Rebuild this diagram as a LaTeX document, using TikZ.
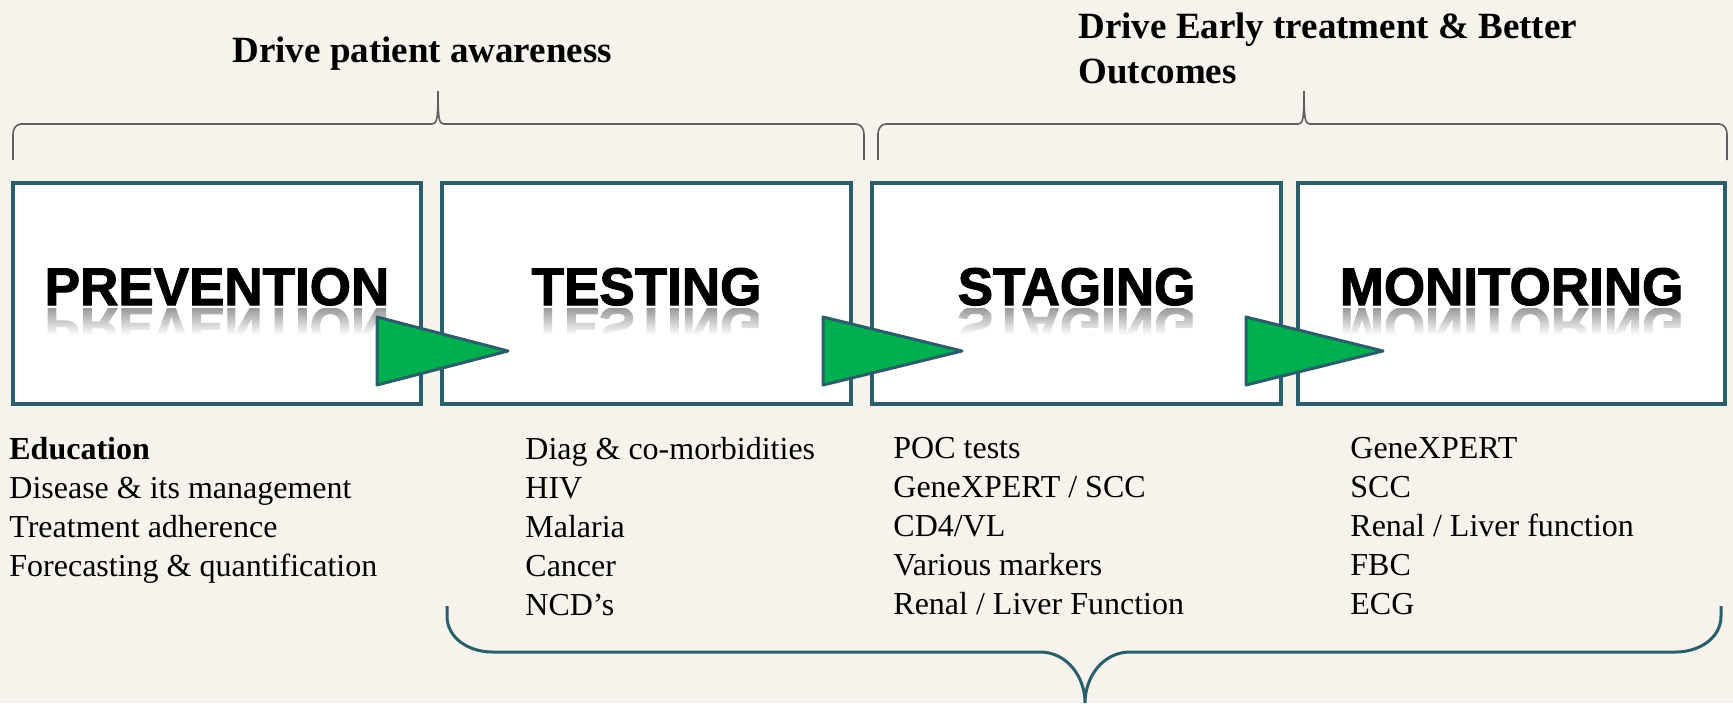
\documentclass[tikz,border=0pt]{standalone}
\usepackage{graphicx}
\usepackage{fontspec}
\setmainfont{Liberation Serif}
\newfontfamily\stagefont{Liberation Sans}[BoldFeatures={FakeBold=2}]
\usetikzlibrary{fadings}
\definecolor{boxline}{RGB}{42,94,107}
\definecolor{arrowgreen}{RGB}{0,176,80}
\definecolor{bracegray}{RGB}{95,95,95}
\definecolor{backdrop}{RGB}{246,243,237}
\tikzfading[name=fadereflect, top color=transparent!100, bottom color=transparent!0]

\begin{document}
\begin{tikzpicture}[x=0.5pt,y=-0.5pt,
  stagebox/.style={draw=boxline,line width=1.6pt,fill=white,minimum height=110.5pt,inner sep=0},
  stagetitle/.style={font=\stagefont\bfseries\fontsize{26.5}{30}\selectfont,anchor=base,inner sep=0},
  reflect/.style={stagetitle,text=black!40},
  arrowtri/.style={draw=boxline,line width=1.5pt,fill=arrowgreen,line join=round},
  topbrace/.style={draw=bracegray,line width=0.8pt},
  bottombrace/.style={draw=boxline,line width=1.5pt},
  headline/.style={font=\bfseries\fontsize{18.5}{22.5}\selectfont,inner sep=0},
  listtext/.style={font=\fontsize{16}{19.5}\selectfont,align=left,anchor=north west,inner sep=0}]
\useasboundingbox (0,0) rectangle (1733,703);
\fill[backdrop] (0,0) rectangle (1733,703);

% headings over the braces
\node[headline,anchor=base west] (aware) at (232,62) {Drive patient awareness};
\node[headline,anchor=north west,align=left] (early) at (1078,12) {Drive Early treatment \& Better\\Outcomes};

% top braces
\foreach \l/\m/\r in {13/438/864,878/1304/1727}
  \draw[topbrace] (\l,160) -- (\l,134) to[out=90,in=180] (\l+8,124) -- (\m-6,124)
    .. controls (\m-1,124) and (\m,119) .. (\m,91)
    .. controls (\m,119) and (\m+1,124) .. (\m+6,124) -- (\r-8,124)
    to[out=0,in=90] (\r,134) -- (\r,160);

% the four stages
\node[stagebox,minimum width=204pt] (prev) at (217,293.5) {};
\node[stagebox,minimum width=204.5pt] (test) at (646.5,293.5) {};
\node[stagebox,minimum width=204.5pt] (stag) at (1076.5,293.5) {};
\node[stagebox,minimum width=213.5pt] (moni) at (1511.5,293.5) {};

\foreach \n/\x/\t in {prev/217/PREVENTION,test/646.5/TESTING,stag/1076.5/STAGING,moni/1511.5/MONITORING}{
  \node[stagetitle] (\n title) at (\x,305) {\t};
  \begin{scope}
    \clip (\x-195,308) rectangle (\x+195,334);
    \node[reflect] (\n mirror) at (\x,308) {\scalebox{1}[-1]{\t}};
  \end{scope}
  \fill[white,path fading=fadereflect] (\x-195,308) rectangle (\x+195,335);
}

% green arrows
\foreach \a/\b in {377/508,823/962,1246/1383}
  \draw[arrowtri] (\a,317) -- (\b,351) -- (\a,385) -- cycle;

% lists
\node[listtext] (educ) at (9,437) {\textbf{Education}\\Disease \& its management\\Treatment adherence\\Forecasting \& quantification};
\node[listtext] (diag) at (525,437) {Diag \& co-morbidities\\HIV\\Malaria\\Cancer\\NCD’s};
\node[listtext] (poc) at (893,437) {POC tests\\GeneXPERT / SCC\\CD4/VL\\Various markers\\Renal / Liver Function};
\node[listtext] (gene) at (1350,437) {GeneXPERT\\SCC\\Renal / Liver function\\FBC\\ECG};

% bottom brace
\draw[bottombrace] (447,606) -- (447,616) to[out=-90,in=180] (492,652) -- (1040,652)
  to[out=0,in=90] (1085,703) to[out=90,in=180] (1130,652) -- (1676,652)
  to[out=0,in=-90] (1721,616) -- (1721,606);
\end{tikzpicture}
\end{document}
